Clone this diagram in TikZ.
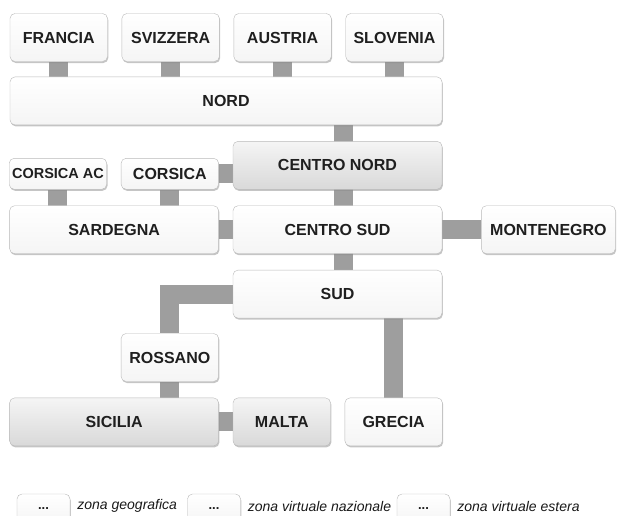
\documentclass[tikz,border=0pt]{standalone}
\usepackage{fontspec}
\setmainfont{Liberation Sans}
\usetikzlibrary{positioning,shadows,backgrounds}

\begin{document}
\begin{tikzpicture}[x=1pt,y=-1pt]
	% \usetikzlibrary{positioning,shadows,backgrounds}
	\tikzstyle{zone} = [rectangle, draw=gray!55, rounded corners=5pt, top color=white, bottom color=gray!8, drop shadow={shadow xshift=0.8pt, shadow yshift=-1.5pt, fill=black!45}, text=black!88, font=\bfseries\fontsize{16}{18}\selectfont, minimum width=97.5pt, minimum height=48pt, inner sep=0pt]
	\tikzstyle{geo} = [zone, top color=gray!8, bottom color=gray!30]
	\tikzstyle{link} = [draw=black!38, line width=19pt]
	\tikzstyle{keybox} = [zone, minimum width=53pt, minimum height=30pt, font=\bfseries\fontsize{13}{15}\selectfont]
	\tikzstyle{keytext} = [font=\itshape\fontsize{14}{16}\selectfont, text=black!90, inner sep=0pt, yshift=3pt]
	\useasboundingbox (0,0) rectangle (618,515);

	\node [zone] (francia) at (58.75,37.5) {FRANCIA};
	\node [zone, right=14pt of francia] (svizzera) {SVIZZERA};
	\node [zone, right=14pt of svizzera] (austria) {AUSTRIA};
	\node [zone, right=14pt of austria] (slovenia) {SLOVENIA};
	\node [zone, minimum width=432pt, below right=15pt and 0pt of francia.south west] (nord) {NORD};
	\node [geo, minimum width=209pt, below left=16pt and 0pt of nord.south east] (centronord) {CENTRO NORD};
	\node [zone, minimum width=209pt, below=16pt of centronord] (centrosud) {CENTRO SUD};
	\node [zone, minimum width=209pt, below=16pt of centrosud] (sud) {SUD};
	\node [zone, minimum width=209pt, left=14pt of centrosud] (sardegna) {SARDEGNA};
	\node [zone, minimum height=31pt, above left=16pt and 0pt of sardegna.north east] (corsica) {CORSICA};
	\node [zone, minimum height=31pt, left=14pt of corsica, font=\bfseries\fontsize{14.5}{16}\selectfont] (corsicaac) {CORSICA AC};
	\node [zone, minimum width=134pt, right=39pt of centrosud] (montenegro) {MONTENEGRO};
	\node [zone, below left=15pt and 14pt of sud.south west] (rossano) {ROSSANO};
	\node [geo, minimum width=209pt, below left=16pt and 0pt of rossano.south east] (sicilia) {SICILIA};
	\node [geo, right=14pt of sicilia] (malta) {MALTA};
	\node [zone, right=14pt of malta] (grecia) {GRECIA};
	\coordinate (spine) at ([xshift=6pt]centronord.center);

	% legend
	\node [keybox] (keygeo) at (43.5,509) {...};
	\node [keytext, right=7pt of keygeo] (labelgeo) {zona geografica};
	\node [keybox] (keynaz) at (214,509) {...};
	\node [keytext, right=7pt of keynaz] (labelnaz) {zona virtuale nazionale};
	\node [keybox] (keyest) at (423.5,509) {...};
	\node [keytext, right=7pt of keyest] (labelest) {zona virtuale estera};

	\begin{scope}[on background layer]
		\draw[link] (francia) -- (francia |- nord);
		\draw[link] (svizzera) -- (svizzera |- nord);
		\draw[link] (austria) -- (austria |- nord);
		\draw[link] (slovenia) -- (slovenia |- nord);
		\draw[link] (spine |- nord) -- (spine |- sud);
		\draw[link] (corsicaac) -- (corsicaac |- sardegna);
		\draw[link] (corsica) -- (corsica |- sardegna);
		\draw[link] (corsica) -- (corsica -| centronord);
		\draw[link] (sardegna) -- (centrosud);
		\draw[link] (centrosud) -- (montenegro);
		\draw[link] (sud) -| (rossano);
		\draw[link] (rossano) -- (rossano |- sicilia);
		\draw[link] (sicilia) -- (malta);
		\draw[link] (grecia) -- (grecia |- sud);
	\end{scope}
\end{tikzpicture}
\end{document}
